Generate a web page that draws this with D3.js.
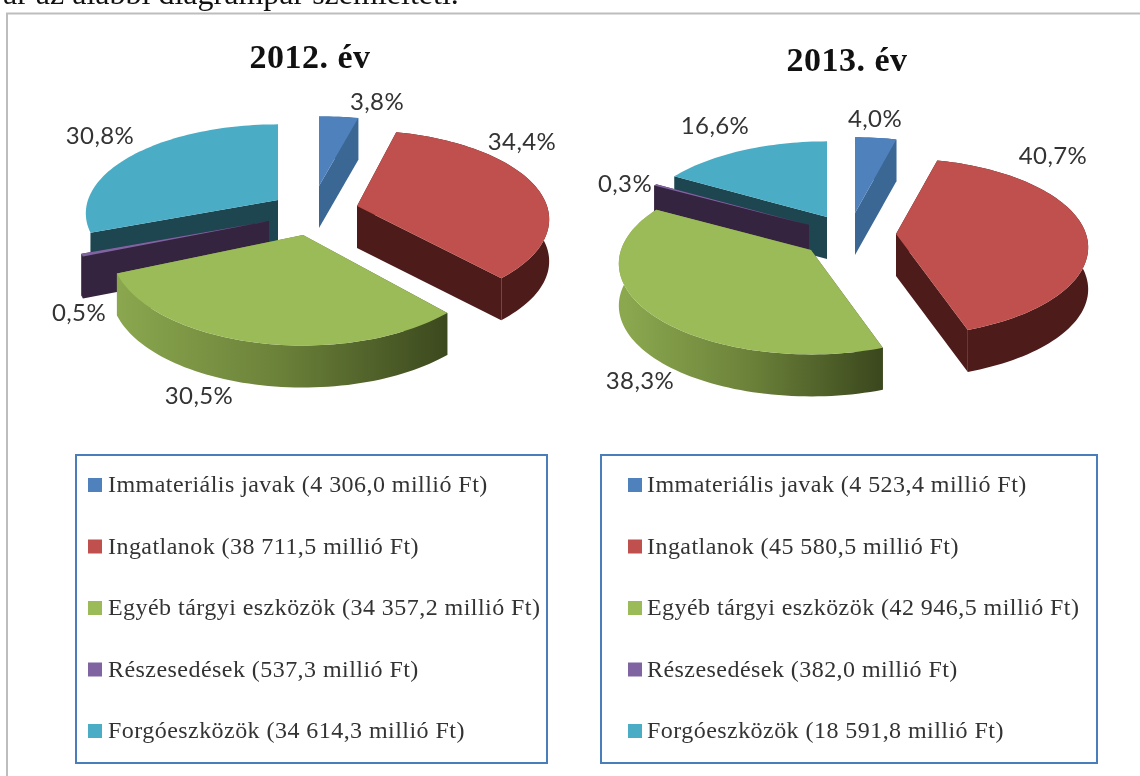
<!DOCTYPE html>
<html><head><meta charset="utf-8">
<script src="https://cdnjs.cloudflare.com/ajax/libs/d3/7.8.5/d3.min.js"></script>
<style>html,body{margin:0;padding:0;background:#fff;overflow:hidden}svg{display:block;filter:blur(.35px)}</style>
</head><body><svg id="c" width="1140" height="776"></svg>
<script>
const categories = ["Immateriális javak","Ingatlanok","Egyéb tárgyi eszközök","Részesedések","Forgóeszközök"];
const pct2012 = [3.8,34.4,30.5,0.5,30.8];
const pct2013 = [4.0,40.7,38.3,0.3,16.6];
const legend2012 = ["4 306,0","38 711,5","34 357,2","537,3","34 614,3"];
const legend2013 = ["4 523,4","45 580,5","42 946,5","382,0","18 591,8"];
const titles = ["2012. év","2013. év"];
const caption = "vár az alábbi diagrampár szemlélteti.";

const topCol = ["#4f81bd","#c0504d","#9bbb59","#8064a2","#4bacc6"];
const sideCol = ["#3b6795","#4c1b1a","url(#g)","#35243f","#1d4650"];
const drawOrder = [4,0,3,2,1];
const svg = d3.select("#c");

const defs = svg.append("defs");
["g0","g1"].forEach((id,i)=>{
  const g = defs.append("linearGradient").attr("id",id).attr("gradientUnits","userSpaceOnUse")
    .attr("x1",[114,625][i]).attr("x2",[446,878][i]).attr("y1",0).attr("y2",0);
  g.append("stop").attr("offset",0).attr("stop-color","#8ba84f");
  g.append("stop").attr("offset",.5).attr("stop-color","#6b8139");
  g.append("stop").attr("offset",1).attr("stop-color","#3c491e");
});

// caption and frame
svg.append("text").attr("x",-13).attr("y",4).attr("font-family","Liberation Serif").attr("font-size",32).attr("fill","#111").text(caption);
svg.append("path").attr("d","M7,776V13.5H1140").attr("fill","none").attr("stroke","#bdbdbd").attr("stroke-width",2);

const rx=190, ry=87, depth=42, persp=0.15;
function project(th,ax,ay,k,dy=0){
  const X=Math.sin(th),Y=Math.cos(th),s=1/(1+persp*Y);
  return [ax+rx*s*X, ay-ry*k*s*Y+dy];
}
function drawPie(values,apexes,yScale,grad,title,titleX,titleY,labelPos){
  const arcs = d3.pie().sort(null)(values);
  const gp = svg.append("g");
  drawOrder.forEach(i=>{
    const a=arcs[i],[ax,ay]=apexes[i],k=yScale[i];
    const n=Math.max(2,Math.ceil((a.endAngle-a.startAngle)/0.03));
    const ts=d3.range(n+1).map(j=>a.startAngle+(a.endAngle-a.startAngle)*j/n);
    const top=ts.map(t=>project(t,ax,ay,k));
    const bot=ts.map(t=>project(t,ax,ay,k,depth));
    const side=i===2?`url(#${grad})`:sideCol[i];
    const line=d3.line();
    const quad=p=>[[ax,ay],p,[p[0],p[1]+depth],[ax,ay+depth]];
    gp.append("path").attr("d",line(quad(top[0]))+"Z").attr("fill",side);
    gp.append("path").attr("d",line(quad(top[n]))+"Z").attr("fill",side);
    if(i!==4) gp.append("path").attr("d",line(top.concat(bot.slice().reverse()))+"Z").attr("fill",side);
    gp.append("path").attr("d",line([[ax,ay]].concat(top))+"Z").attr("fill",topCol[i]);
  });
  svg.append("text").attr("x",titleX).attr("y",titleY).attr("text-anchor","middle")
    .attr("font-family","Liberation Serif").attr("font-weight","bold").attr("font-size",34).attr("letter-spacing",0.5).attr("fill","#111").text(title);
  values.forEach((v,i)=>{
    svg.append("text").attr("x",labelPos[i][0]).attr("y",labelPos[i][1]).attr("text-anchor","middle")
      .attr("font-family","Lato").attr("font-size",24).attr("letter-spacing",0.4).attr("fill","#333")
      .text(v.toFixed(1).replace(".",",")+"%");
  });
}
drawPie(pct2012,[[319,186],[357,206],[303,235],[269,221],[278,200]],[0.92,1,1.08,1,1],"g0",titles[0],310,68,
  [[377,110],[522,150],[199,404],[79,321],[100,144]]);
drawPie(pct2013,[[855,213],[896,234],[811,250],[809,225],[827,217]],[1,1,1.02,1,1],"g1",titles[1],847,71,
  [[875,127],[1053,164],[640,389],[625,192],[715,134]]);

function legend(x,w,vals,swX,txtX){
  const y=d3.scalePoint().domain(d3.range(5)).range([485,731]);
  svg.append("rect").attr("x",x).attr("y",455).attr("width",w).attr("height",308)
    .attr("fill","none").attr("stroke","#4a7ebb").attr("stroke-width",2);
  categories.forEach((c,i)=>{
    svg.append("rect").attr("x",swX).attr("y",y(i)-7).attr("width",14).attr("height",14).attr("fill",topCol[i]);
    svg.append("text").attr("x",txtX).attr("y",y(i)+7).attr("font-family","Liberation Serif")
      .attr("font-size",24).attr("letter-spacing",0.45).attr("fill","#333")
      .text(`${c} (${vals[i]} millió Ft)`);
  });
}
legend(76,471,legend2012,88,108);
legend(601,496,legend2013,628,647);
</script></body></html>
